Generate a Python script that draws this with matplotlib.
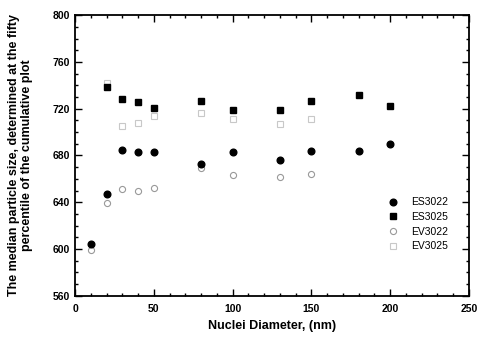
import matplotlib
matplotlib.use("Agg")
import matplotlib.pyplot as plt
from matplotlib.ticker import MultipleLocator

plt.rcParams['font.family'] = ['Liberation Sans', 'DejaVu Sans']

es3022_x = [10, 20, 30, 40, 50, 80, 100, 130, 150, 180, 200]
es3022_y = [604.5, 647, 685, 683, 683, 673, 683, 676, 683.5, 684, 689.5]

es3025_x = [20, 30, 40, 50, 80, 100, 130, 150, 180, 200]
es3025_y = [738.5, 728.5, 726, 721, 726.5, 718.5, 719, 727, 732, 722.5]

ev3022_x = [10, 20, 30, 40, 50, 80, 100, 130, 150]
ev3022_y = [599, 639, 651, 649.5, 652.5, 669.5, 663.5, 662, 664]

ev3025_x = [20, 30, 40, 50, 80, 100, 130, 150]
ev3025_y = [742, 705.5, 708, 714, 716.5, 711, 706.5, 711.5]

fig = plt.figure(figsize=(4.84, 3.44), dpi=100)
ax = fig.add_axes([0.155, 0.14, 0.814, 0.816])

ax.plot(ev3025_x, ev3025_y, linestyle='none', marker='s', markersize=3.8,
        markerfacecolor='none', markeredgecolor='#c8c8c8', markeredgewidth=0.8, label='EV3025')
ax.plot(ev3022_x, ev3022_y, linestyle='none', marker='o', markersize=4.4,
        markerfacecolor='none', markeredgecolor='#999999', markeredgewidth=0.8, label='EV3022')
ax.plot(es3022_x, es3022_y, linestyle='none', marker='o', markersize=4.8,
        color='black', label='ES3022')
ax.plot(es3025_x, es3025_y, linestyle='none', marker='s', markersize=4.2,
        color='black', label='ES3025')

ax.set_xlim(0, 250)
ax.set_ylim(560, 800)
ax.xaxis.set_major_locator(MultipleLocator(50))
ax.xaxis.set_minor_locator(MultipleLocator(10))
ax.yaxis.set_major_locator(MultipleLocator(40))
ax.yaxis.set_minor_locator(MultipleLocator(10))
ax.tick_params(which='both', direction='in', top=True, right=True, labelsize=7.5, width=1)
ax.tick_params(which='major', length=5)
ax.tick_params(which='minor', length=2.5)
ax.tick_params(axis='x', pad=6)
for lab in ax.get_xticklabels() + ax.get_yticklabels():
    lab.set_fontweight('bold')
for s in ax.spines.values():
    s.set_linewidth(1.3)

ax.set_xlabel('Nuclei Diameter, (nm)', fontsize=9, fontweight='bold', labelpad=4)
ax.set_ylabel('The median particle size, determined at the fifty\npercentile of the cumulative plot',
              fontsize=9, fontweight='bold', labelpad=14)

handles, labels = ax.get_legend_handles_labels()
order = [labels.index(n) for n in ['ES3022', 'ES3025', 'EV3022', 'EV3025']]
ax.legend([handles[i] for i in order], [labels[i] for i in order],
          loc='center right', bbox_to_anchor=(0.972, 0.255), frameon=False,
          fontsize=7.5, handletextpad=1.2, labelspacing=0.45, handlelength=1.2)

fig.savefig('out.png', dpi=100)
